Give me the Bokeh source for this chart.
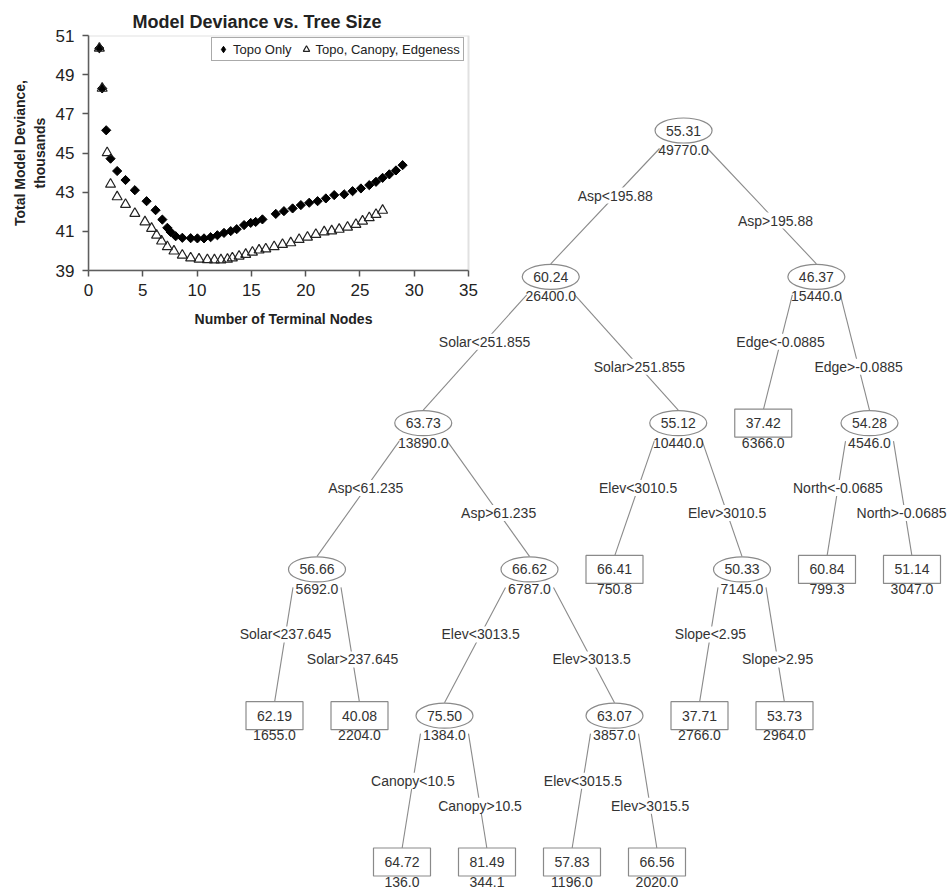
import numpy as np
from bokeh.plotting import figure
from bokeh.models import Range1d, FixedTicker, Legend, LegendItem, BoxAnnotation
from bokeh.layouts import column
from bokeh.embed import file_html
from bokeh.resources import INLINE
from bokeh.core.properties import value

FONT = "Liberation Sans"

# ---------------- scatter data (thousands) ----------------
topo_x = [1.0, 1.26, 1.63, 2.03, 2.64, 3.41, 4.27, 5.35, 6.18, 6.8, 7.26, 7.56, 8.03, 8.64,
          9.41, 10.03, 10.64, 11.25, 11.87, 12.48, 13.1, 13.65, 14.33, 14.94, 15.4, 16.02,
          17.25, 18.0, 18.8, 19.56, 20.33, 21.1, 21.86, 22.63, 23.55, 24.32, 25.09, 25.86,
          26.48, 27.09, 27.71, 28.32, 28.93]
topo_y = [50.35, 48.3, 46.16, 44.71, 44.08, 43.62, 43.1, 42.54, 42.08, 41.6, 41.18, 40.97,
          40.75, 40.67, 40.65, 40.64, 40.64, 40.70, 40.80, 40.92, 41.01, 41.11, 41.32, 41.43,
          41.48, 41.61, 41.89, 42.03, 42.17, 42.34, 42.46, 42.54, 42.68, 42.85, 42.89, 43.05,
          43.19, 43.36, 43.53, 43.73, 43.91, 44.11, 44.38]
tce_x = [1.0, 1.26, 1.72, 2.03, 2.64, 3.41, 4.27, 5.2, 5.81, 6.27, 6.73, 7.26, 7.87, 8.64,
         9.41, 10.18, 10.95, 11.6, 12.2, 12.8, 13.25, 13.87, 14.48, 15.1, 15.71, 16.33, 17.1,
         17.87, 18.63, 19.4, 20.17, 20.94, 21.71, 22.4, 23.09, 23.86, 24.63, 25.24, 25.86,
         26.48, 27.09]
tce_y = [50.35, 48.3, 45.01, 43.4, 42.76, 42.37, 41.91, 41.48, 41.15, 40.8, 40.5, 40.21,
         39.99, 39.78, 39.64, 39.58, 39.55, 39.54, 39.54, 39.57, 39.64, 39.73, 39.82, 39.93,
         40.04, 40.1, 40.21, 40.33, 40.41, 40.58, 40.7, 40.84, 40.97, 41.02, 41.1, 41.21,
         41.35, 41.52, 41.69, 41.86, 42.07]
x_ticks = [0, 5, 10, 15, 20, 25, 30, 35]
y_ticks = [39, 41, 43, 45, 47, 49, 51]
x_lim = (0, 35)
y_lim = (39, 51)

# ---------------- regression tree data ----------------
node_mean = [55.31, 60.24, 46.37, 63.73, 55.12, 37.42, 54.28, 56.66, 66.62, 66.41, 50.33,
             60.84, 51.14, 62.19, 40.08, 75.50, 63.07, 37.71, 53.73, 64.72, 81.49, 57.83, 66.56]
node_dev = [49770.0, 26400.0, 15440.0, 13890.0, 10440.0, 6366.0, 4546.0, 5692.0, 6787.0,
            750.8, 7145.0, 799.3, 3047.0, 1655.0, 2204.0, 1384.0, 3857.0, 2766.0, 2964.0,
            136.0, 344.1, 1196.0, 2020.0]
node_parent = [-1, 0, 0, 1, 1, 2, 2, 3, 3, 4, 4, 6, 6, 7, 7, 8, 8, 10, 10, 15, 15, 16, 16]
node_split = ["", "Asp<195.88", "Asp>195.88", "Solar<251.855", "Solar>251.855",
              "Edge<-0.0885", "Edge>-0.0885", "Asp<61.235", "Asp>61.235",
              "Elev<3010.5", "Elev>3010.5", "North<-0.0685", "North>-0.0685",
              "Solar<237.645", "Solar>237.645", "Elev<3013.5", "Elev>3013.5",
              "Slope<2.95", "Slope>2.95", "Canopy<10.5", "Canopy>10.5",
              "Elev<3015.5", "Elev>3015.5"]

# ---------------- tree layout (tidy packing) ----------------
n = len(node_mean)
children = [[] for _ in range(n)]
for i, par in enumerate(node_parent):
    if par >= 0:
        children[par].append(i)
depth = [0] * n
for i in range(n):
    if node_parent[i] >= 0:
        depth[i] = depth[node_parent[i]] + 1

pos = [0.0] * n
next_free = {}
SEP = 2.0


def subtree(i):
    out = [i]
    for c in children[i]:
        out += subtree(c)
    return out


def place(i):
    d = depth[i]
    if not children[i]:
        pos[i] = next_free.get(d, 0.0)
    else:
        for c in children[i]:
            place(c)
        pos[i] = (pos[children[i][0]] + pos[children[i][-1]]) / 2.0
        need = next_free.get(d, 0.0)
        if pos[i] < need:
            shift = need - pos[i]
            for j in subtree(i):
                pos[j] += shift
                next_free[depth[j]] = max(next_free.get(depth[j], 0.0), pos[j] + SEP)
    next_free[d] = pos[i] + SEP


place(0)

# approximate advance widths (em) of Arial-metric glyphs, to keep labels on the page
GLYPH_EM = {".": 0.278, "-": 0.333, "<": 0.584, ">": 0.584, "A": 0.667, "C": 0.722,
            "E": 0.667, "N": 0.722, "S": 0.667, "l": 0.222, "r": 0.333, "s": 0.5,
            "t": 0.278, "v": 0.5, "y": 0.5}


def text_px(s, size):
    return sum(GLYPH_EM.get(ch, 0.556) for ch in s) * size


# ---------------- scatter figure ----------------
BL, BT, BB = 88, 35, 64
PW, FH = 380, 235          # plot-area width (0..35) and height
EXTRA = 10                 # room right of the plot area for the last tick label
x_end = x_lim[1] + EXTRA * (x_lim[1] - x_lim[0]) / PW
sp = figure(frame_width=PW + EXTRA, frame_height=FH, x_range=Range1d(x_lim[0], x_end),
            y_range=Range1d(*y_lim), output_backend="svg", toolbar_location=None,
            min_border_left=BL, min_border_top=BT, min_border_right=0, min_border_bottom=BB)
sp.title.text = "Model Deviance vs. Tree Size"
sp.title.text_font = FONT
sp.title.text_font_size = "18px"
sp.title.text_font_style = "bold"
sp.title.text_color = "#222222"
sp.title.align = "left"
sp.title.offset = 44
sp.title.standoff = 7
sp.grid.visible = False
sp.outline_line_color = None
sp.add_layout(BoxAnnotation(left=x_lim[0], right=x_lim[1], bottom=y_lim[0], top=y_lim[1],
                            fill_color=None, line_color="#9a9a9a", line_width=2))
sp.xaxis.ticker = FixedTicker(ticks=x_ticks)
sp.yaxis.ticker = FixedTicker(ticks=y_ticks)
sp.xaxis.bounds = x_lim
sp.xaxis.axis_label = "Number of Terminal Nodes"
sp.yaxis.axis_label = "Total Model Deviance,\nthousands"
for ax in (sp.xaxis[0], sp.yaxis[0]):
    ax.axis_line_color = "#555555"
    ax.axis_line_width = 1.5
    ax.major_tick_line_color = "#555555"
    ax.major_tick_line_width = 1.5
    ax.major_tick_out = 6
    ax.major_tick_in = 0
    ax.minor_tick_line_color = None
    ax.major_label_text_font = FONT
    ax.major_label_text_font_size = "17px"
    ax.major_label_text_color = "#222222"
    ax.axis_label_text_font = FONT
    ax.axis_label_text_font_size = "14px"
    ax.axis_label_text_font_style = "bold"
    ax.axis_label_text_color = "#222222"
sp.xaxis.major_label_standoff = 7
sp.xaxis.axis_label_standoff = 12
sp.yaxis.major_label_standoff = 8
sp.yaxis.axis_label_standoff = 5

# swatch renderer for the legend (sits hidden under the first diamond)
r_topo_key = sp.scatter(x=topo_x[:1], y=topo_y[:1], marker="diamond", size=8,
                        fill_color="black", line_color="black")
r_topo = sp.scatter(topo_x, topo_y, marker="square", angle=np.pi / 4, size=6.5,
                    fill_color="black", line_color="black")
r_tce = sp.scatter(tce_x, tce_y, marker="triangle", size=10, fill_color=None,
                   line_color="#222222", line_width=1.2)
legend = Legend(items=[LegendItem(label="Topo Only", renderers=[r_topo_key]),
                       LegendItem(label="Topo, Canopy, Edgeness", renderers=[r_tce])],
                orientation="horizontal", location=(123, 209), margin=0, padding=3,
                spacing=6, glyph_width=16, glyph_height=16, label_height=14,
                label_standoff=2, label_text_font=FONT, label_text_font_size="13px",
                label_text_color="#222222", border_line_color="#555555",
                border_line_width=1.5, background_fill_color="white")
sp.add_layout(legend)

# ---------------- tree figure ----------------
W, H = 948, 889
UX, UY = 42.5, 146.3       # px per layout unit / per level
X0, Y0 = 274.0, 130.0      # page px of unit 0 / level 0
FS = 14                    # tree text size, px
TFW = W - BL               # frame width of the tree figure
tp = figure(width=W, height=H,
            x_range=Range1d(-(X0 - BL) / UX, (TFW - (X0 - BL)) / UX),
            y_range=Range1d((H - Y0) / UY, -Y0 / UY), output_backend="svg",
            toolbar_location=None, x_axis_location=None, y_axis_location=None,
            min_border_left=BL, min_border_right=0, min_border_top=0, min_border_bottom=0)
tp.grid.visible = False
tp.outline_line_color = None
tp.background_fill_color = None
tp.border_fill_color = None

ex0, ey0, ex1, ey1, lx, ly, lt = [], [], [], [], [], [], []
for i in range(n):
    p = node_parent[i]
    if p < 0:
        continue
    side = -1 if children[p][0] == i else 1
    x0 = pos[p] + side * 24 / UX
    y0 = depth[p] + 18 / UY
    x1 = pos[i]
    y1 = depth[i] - 13 / UY
    ex0.append(x0); ey0.append(y0); ex1.append(x1); ey1.append(y1)
    yl = depth[p] + (65 if side < 0 else 90) / UY
    t = (yl - y0) / (y1 - y0)
    xl = x0 + t * (x1 - x0)
    # keep the whole label inside the page
    xl = min(xl, (W - 2 - text_px(node_split[i], FS) / 2 - X0) / UX)
    lx.append(xl); ly.append(yl); lt.append(node_split[i])

tp.segment(ex0, ey0, ex1, ey1, line_color="#8a8a8a", line_width=1.1)

inner = [i for i in range(n) if children[i]]
leaves = [i for i in range(n) if not children[i]]
tp.ellipse([pos[i] for i in inner], [depth[i] for i in inner], width=57, height=25,
           width_units="screen", height_units="screen", fill_color="white",
           line_color="#8a8a8a", line_width=1.2)
tp.rect([pos[i] for i in leaves], [depth[i] for i in leaves], width=57, height=28,
        width_units="screen", height_units="screen", fill_color="white",
        line_color="#8a8a8a", line_width=1.2)

tp.text([pos[i] for i in range(n)], [depth[i] for i in range(n)],
        text=["%.2f" % v for v in node_mean], text_align="center", text_baseline="middle",
        text_font=value(FONT), text_font_size="%dpx" % FS, text_color="#333333")
tp.text([pos[i] for i in range(n)], [depth[i] + 19.5 / UY for i in range(n)],
        text=["%.1f" % v for v in node_dev], text_align="center", text_baseline="middle",
        text_font=value(FONT), text_font_size="%dpx" % FS, text_color="#333333")
tp.text(lx, ly, text=lt, text_align="center", text_baseline="middle",
        text_font=value(FONT), text_font_size="%dpx" % FS, text_color="#333333",
        background_fill_color="white")

# the transparent tree canvas is pulled up over the chart
sp_h = BT + FH + BB
tp.margin = (-sp_h, 0, 0, 0)

layout = column(sp, tp, spacing=0)
open("out.html", "w").write(file_html(layout, INLINE))
